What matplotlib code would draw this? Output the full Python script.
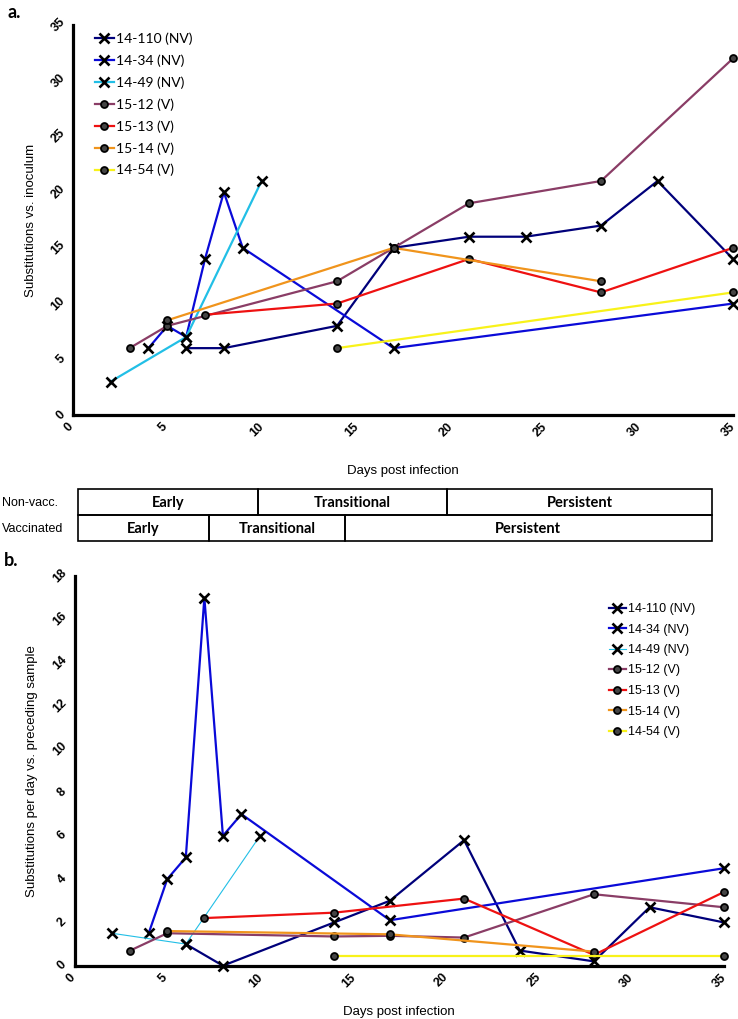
import matplotlib
matplotlib.use('Agg')
import matplotlib.pyplot as plt
from matplotlib.transforms import ScaledTranslation

W, H = 738, 1019

# series names / colours
names = ['14-110 (NV)', '14-34 (NV)', '14-49 (NV)', '15-12 (V)', '15-13 (V)', '15-14 (V)', '14-54 (V)']
colors = ['#00007a', '#0a0ad8', '#22bfe6', '#8a3d66', '#ee1111', '#f0941c', '#f8f21a']
markers = ['x', 'x', 'x', 'o', 'o', 'o', 'o']

# a. substitutions vs inoculum
days_a = [
    [6, 8, 14, 17, 21, 24, 28, 31, 35],
    [4, 5, 6, 7, 8, 9, 17, 35],
    [2, 6, 10],
    [3, 5, 14, 17, 21, 28, 35],
    [7, 14, 21, 28, 35],
    [5, 17, 28],
    [14, 35],
]
subs_a = [
    [6, 6, 8, 15, 16, 16, 17, 21, 14],
    [6, 8, 7, 14, 20, 15, 6, 10],
    [3, 7, 21],
    [6, 8, 12, 15, 19, 21, 32],
    [9, 10, 14, 11, 15],
    [8.5, 15, 12],
    [6, 11],
]

# b. substitutions per day vs preceding sample
days_b = days_a
subs_b = [
    [1.0, 0, 2.0, 3.0, 5.8, 0.7, 0.2, 2.7, 2.0],
    [1.5, 4, 5, 17, 6, 7, 2.1, 4.5],
    [1.5, 1.0, 6.0],
    [0.7, 1.5, 1.35, 1.38, 1.3, 3.3, 2.7],
    [2.2, 2.45, 3.1, 0.5, 3.4],
    [1.6, 1.45, 0.65],
    [0.45, 0.45],
]

phases = ['Early', 'Transitional', 'Persistent']
nonvacc_edges = [0, 0.284, 0.582, 1]
vacc_edges = [0, 0.2075, 0.421, 1]

xticks = [0, 5, 10, 15, 20, 25, 30, 35]
yticks_a = [0, 5, 10, 15, 20, 25, 30, 35]
yticks_b = [0, 2, 4, 6, 8, 10, 12, 14, 16, 18]


def fbox(l, t, r, b):
    return [l / W, 1 - b / H, (r - l) / W, (b - t) / H]


fig = plt.figure(figsize=(W / 100, H / 100), dpi=100)

ax1 = fig.add_axes(fbox(73, 25, 733, 415))
ax2 = fig.add_axes(fbox(74.5, 576, 723.8, 965.7))

shift = ScaledTranslation(-4 / 100, 0, fig.dpi_scale_trans)


def style(ax, yt, ylab, xpad):
    for s in ['top', 'right']:
        ax.spines[s].set_visible(False)
    for s in ['left', 'bottom']:
        ax.spines[s].set_linewidth(2.3)
    ax.set_xlim(0, 35)
    ax.set_ylim(0, yt[-1])
    ax.set_xticks(xticks)
    ax.set_yticks(yt)
    ax.tick_params(length=0, pad=4)
    ax.set_xticklabels([str(t) for t in xticks], rotation=45, fontsize=9,
                       fontweight='bold', family='Liberation Sans')
    for lab in ax.get_xticklabels():
        lab.set_transform(lab.get_transform() + shift)
    ax.set_yticklabels([str(t) for t in yt], rotation=45, fontsize=9,
                       fontweight='bold', family='Liberation Sans', va='center')
    ax.set_ylabel(ylab, fontsize=9.5, family='Liberation Sans', labelpad=9)
    ax.set_xlabel('Days post infection', fontsize=9.5, family='Liberation Sans', labelpad=xpad)


def draw(ax, days, subs, thin_cyan=False):
    handles = []
    for i in range(len(names)):
        lw = 1.6
        if thin_cyan and i == 2:
            lw = 0.8
        if markers[i] == 'x':
            mk = dict(marker='x', ms=6.5, mew=1.9, mec='black')
        else:
            mk = dict(marker='o', ms=5, mew=1.3, mec='black', mfc='#444444')
        h, = ax.plot(days[i], subs[i], color=colors[i], lw=lw, label=names[i],
                     clip_on=False, zorder=3, **mk)
        handles.append(h)
    return handles


style(ax1, yticks_a, 'Substitutions vs. inoculum', 19)
h1 = draw(ax1, days_a, subs_a)
style(ax2, yticks_b, 'Substitutions per day vs. preceding sample', 12)
h2 = draw(ax2, days_b, subs_b, thin_cyan=True)

ax1.legend(handles=h1, loc='upper left', bbox_to_anchor=(95 / W, 1 - 32 / H),
           bbox_transform=fig.transFigure, frameon=False, borderpad=0,
           borderaxespad=0, handlelength=1.35, handletextpad=0.15,
           labelspacing=0.68, prop=dict(family='Lato', size=10))
ax2.legend(handles=h2, loc='upper left', bbox_to_anchor=(609 / W, 1 - 603 / H),
           bbox_transform=fig.transFigure, frameon=False, borderpad=0,
           borderaxespad=0, handlelength=1.35, handletextpad=0.15,
           labelspacing=0.68, prop=dict(family='Liberation Sans', size=9))

fig.text(8 / W, 1 - 12 / H, 'a.', fontsize=13, fontweight='bold', family='Lato',
         va='center', ha='left')
fig.text(4 / W, 1 - 560 / H, 'b.', fontsize=13, fontweight='bold', family='Lato',
         va='center', ha='left')

# phase table
axt = fig.add_axes(fbox(77.7, 489.3, 712, 541))
axt.set_xlim(0, 1)
axt.set_ylim(0, 2)
axt.axis('off')
for row, edges in [(1, nonvacc_edges), (0, vacc_edges)]:
    for j in range(len(phases)):
        x0, x1 = edges[j], edges[j + 1]
        axt.add_patch(plt.Rectangle((x0, row), x1 - x0, 1, fill=False,
                                    lw=1.2, ec='black', clip_on=False))
        axt.text((x0 + x1) / 2, row + 0.48, phases[j], ha='center', va='center',
                 fontsize=10.5, fontweight='bold', family='Lato')

fig.text(2 / W, 1 - 503 / H, 'Non-vacc.', fontsize=9, family='Liberation Sans',
         va='center', ha='left')
fig.text(2 / W, 1 - 529 / H, 'Vaccinated', fontsize=9, family='Liberation Sans',
         va='center', ha='left')

fig.savefig('out.png', dpi=100)
